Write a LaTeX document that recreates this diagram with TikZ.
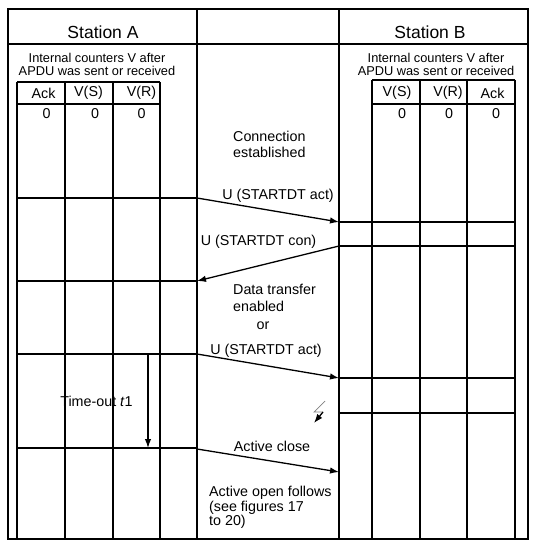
\documentclass[tikz,border=0pt]{standalone}
\usepackage{fontspec}
\setmainfont{Liberation Sans}
\usetikzlibrary{arrows.meta}

\begin{document}
\begin{tikzpicture}[x=1pt, y=-1pt,
	every node/.style={inner sep=0pt, font=\fontsize{14.3}{16.5}\selectfont},
	frameline/.style={line width=1.8pt},
	gridline/.style={line width=1.3pt},
	msg/.style={line width=1.3pt, -{Latex[length=9pt, width=6.5pt]}},
	small/.style={font=\fontsize{12.8}{13}\selectfont, align=center},
	title/.style={font=\fontsize{17.5}{20}\selectfont}]
	\useasboundingbox (0,0) rectangle (537,548);

	% outer frame and panels
	\draw[frameline] (8,9) rectangle (528,539);
	\draw[frameline] (8,44) -- (528,44);
	\draw[gridline] (197,9) -- (197,539);
	\draw[gridline] (339,9) -- (339,539);

	% table of station A
	\draw[gridline] (17,82) -- (160,82);
	\draw[gridline] (17,104) -- (160,104);
	\foreach \x in {17,65,113,160}
		\draw[gridline] (\x,82) -- (\x,539);
	\foreach \y in {198,281,354,448}
		\draw[gridline] (17,\y) -- (197,\y);

	% table of station B
	\draw[gridline] (372,80) -- (515,80);
	\draw[gridline] (372,104) -- (515,104);
	\foreach \x in {372,467,515}
		\draw[gridline] (\x,80) -- (\x,539);
	\draw[line width=2.2pt] (420,80) -- (420,539);
	\foreach \y in {222,246,378,413}
		\draw[gridline] (339,\y) -- (515,\y);

	% headings
	\node[title] (stA) at (103,32) {Station A};
	\node[title] (stB) at (430,32) {Station B};
	\node[small] (cntA) at (97,64.5) {Internal counters V after\\APDU was sent or received};
	\node[small] (cntB) at (436,64.5) {Internal counters V after\\APDU was sent or received};

	\node (ackA) at (43.5,93) {Ack};
	\node (vsA) at (88.5,93) {V(S)};
	\node (vrA) at (141.5,93) {V(R)};
	\node (vsB) at (397,93) {V(S)};
	\node (vrB) at (448,93) {V(R)};
	\node (ackB) at (492.5,93) {Ack};

	\node (zackA) at (46.5,114) {0};
	\node (zvsA) at (95,114) {0};
	\node (zvrA) at (141.5,114) {0};
	\node (zvsB) at (402,114) {0};
	\node (zvrB) at (449,114) {0};
	\node (zackB) at (496,114) {0};

	% message end points
	\coordinate (a1) at (197,198);
	\coordinate (b1) at (339,222);
	\coordinate (b2) at (339,246);
	\coordinate (a2) at (197,281);
	\coordinate (a3) at (197,354);
	\coordinate (b3) at (339,378);
	\coordinate (a4) at (197,449);
	\coordinate (b4) at (339,472);
	\coordinate (t1) at (148,354);
	\coordinate (t2) at (148,448);

	\draw[msg] (a1) -- (b1);
	\draw[msg] (b2) -- (a2);
	\draw[msg] (a3) -- (b3);
	\draw[msg] (a4) -- (b4);
	\draw[msg] (t1) -- (t2);

	% lost frame
	\coordinate (l1) at (325,401);
	\coordinate (l2) at (314,412);
	\coordinate (l3) at (323,412);
	\coordinate (l4) at (314,423);
	\draw[gray, line width=0.7pt] (l1) -- (l2) -- (l3);
	\draw[msg] (l3) -- (l4);

	% texts in the middle
	\node[anchor=west, align=left] (conn) at (233,144.5) {Connection\\established};
	\node (act1) at (278,196) {U (STARTDT act)};
	\node (con) at (258.5,242) {U (STARTDT con)};
	\node[anchor=west, align=left] (enab) at (233,298) {Data transfer\\enabled};
	\node (or) at (263,326) {or};
	\node (act2) at (266,351) {U (STARTDT act)};
	\node (tout) at (96.5,401) {Time-out \textit{t}1};
	\node (close) at (272,446.5) {Active close};
	\node[anchor=west, align=left, font=\fontsize{14.3}{14.5}\selectfont] (open) at (209,507.5) {Active open follows\\(see figures 17\\to 20)};
\end{tikzpicture}
\end{document}
